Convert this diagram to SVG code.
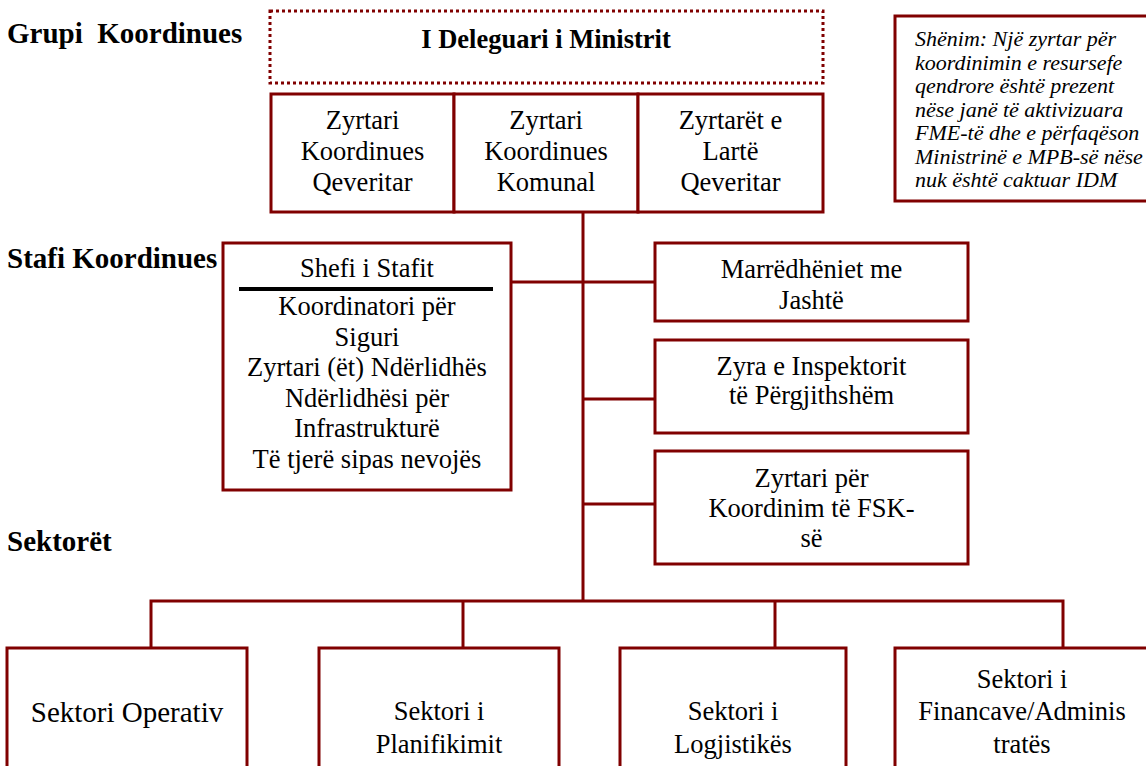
<svg xmlns="http://www.w3.org/2000/svg" width="1146" height="766" viewBox="0 0 1146 766">
<style>
.box{fill:#fff;stroke:#800000;stroke-width:3}
.dot{fill:#fff;stroke:#800000;stroke-width:3;stroke-dasharray:3 3}
.ln{stroke:#800000;stroke-width:3;fill:none}
.t{font-family:"Liberation Serif","Times New Roman",serif;font-size:26.5px;fill:#000;text-anchor:middle}
.big{font-size:29px}
.h{font-family:"Liberation Serif","Times New Roman",serif;font-size:29px;font-weight:bold;fill:#000}
.n{font-family:"Liberation Serif","Times New Roman",serif;font-size:22px;font-style:italic;fill:#000}
</style>
<rect width="1146" height="766" fill="#fff"/>
<g id="labels">
<text class="h" x="7" y="43" xml:space="preserve">Grupi  Koordinues</text>
<text class="h" x="7" y="268">Stafi Koordinues</text>
<text class="h" x="7" y="551">Sektorët</text>
</g>
<g id="connectors">
<line class="ln" x1="583" y1="212" x2="583" y2="601"/>
<line class="ln" x1="511" y1="282" x2="655" y2="282"/>
<line class="ln" x1="583" y1="399" x2="655" y2="399"/>
<line class="ln" x1="583" y1="504" x2="655" y2="504"/>
<polyline class="ln" points="151,648 151,601 1063,601 1063,648"/>
<line class="ln" x1="463" y1="601" x2="463" y2="648"/>
<line class="ln" x1="775" y1="601" x2="775" y2="648"/>
</g>
<g id="delegate">
<rect class="dot" x="270" y="11" width="553" height="72"/>
<text class="t" x="546" y="48" font-weight="bold">I Deleguari i Ministrit</text>
</g>
<g id="zk-qeveritar">
<rect class="box" x="271" y="94" width="183" height="118"/>
<text class="t" x="362.5" y="129">Zyrtari</text>
<text class="t" x="362.5" y="160">Koordinues</text>
<text class="t" x="362.5" y="191">Qeveritar</text>
</g>
<g id="zk-komunal">
<rect class="box" x="454" y="94" width="184" height="118"/>
<text class="t" x="546" y="129">Zyrtari</text>
<text class="t" x="546" y="160">Koordinues</text>
<text class="t" x="546" y="191">Komunal</text>
</g>
<g id="zk-larte">
<rect class="box" x="638" y="94" width="185" height="118"/>
<text class="t" x="730.5" y="129">Zyrtarët e</text>
<text class="t" x="730.5" y="160">Lartë</text>
<text class="t" x="730.5" y="191">Qeveritar</text>
</g>
<g id="note">
<rect class="box" x="895" y="16" width="253" height="185"/>
<text class="n" x="915" y="46">Shënim: Një zyrtar për</text>
<text class="n" x="915" y="69.5">koordinimin e resursefe</text>
<text class="n" x="915" y="93">qendrore është prezent</text>
<text class="n" x="915" y="116.5">nëse janë të aktivizuara</text>
<text class="n" x="915" y="140">FME-të dhe e përfaqëson</text>
<text class="n" x="915" y="163.5">Ministrinë e MPB-së nëse</text>
<text class="n" x="915" y="187">nuk është caktuar IDM</text>
</g>
<g id="stafi">
<rect class="box" x="223" y="243" width="288" height="247"/>
<text class="t" x="367" y="277">Shefi i Stafit</text>
<line x1="239" y1="289" x2="493" y2="289" stroke="#000" stroke-width="4"/>
<text class="t" x="367" y="315">Koordinatori për</text>
<text class="t" x="367" y="345.5">Siguri</text>
<text class="t" x="367" y="376">Zyrtari (ët) Ndërlidhës</text>
<text class="t" x="367" y="406.5">Ndërlidhësi për</text>
<text class="t" x="367" y="437">Infrastrukturë</text>
<text class="t" x="367" y="467.5">Të tjerë sipas nevojës</text>
</g>
<g id="marredheniet">
<rect class="box" x="655" y="243" width="313" height="78"/>
<text class="t" x="811.5" y="278">Marrëdhëniet me</text>
<text class="t" x="811.5" y="309">Jashtë</text>
</g>
<g id="inspektori">
<rect class="box" x="655" y="340" width="313" height="93"/>
<text class="t" x="811.5" y="375">Zyra e Inspektorit</text>
<text class="t" x="811.5" y="404">të Përgjithshëm</text>
</g>
<g id="fsk">
<rect class="box" x="655" y="451" width="313" height="113"/>
<text class="t" x="811.5" y="487">Zyrtari për</text>
<text class="t" x="811.5" y="517">Koordinim të FSK-</text>
<text class="t" x="811.5" y="547">së</text>
</g>
<g id="operativ">
<rect class="box" x="7" y="648" width="240" height="130"/>
<text class="t big" x="127" y="722">Sektori Operativ</text>
</g>
<g id="planifikimi">
<rect class="box" x="319" y="648" width="240" height="130"/>
<text class="t" x="439" y="720">Sektori i</text>
<text class="t" x="439" y="753">Planifikimit</text>
</g>
<g id="logjistika">
<rect class="box" x="620" y="648" width="226" height="130"/>
<text class="t" x="733" y="720">Sektori i</text>
<text class="t" x="733" y="753">Logjistikës</text>
</g>
<g id="financat">
<rect class="box" x="895" y="648" width="260" height="130"/>
<text class="t" x="1022" y="688">Sektori i</text>
<text class="t" x="1022" y="720">Financave/Adminis</text>
<text class="t" x="1022" y="753">tratës</text>
</g>
</svg>
